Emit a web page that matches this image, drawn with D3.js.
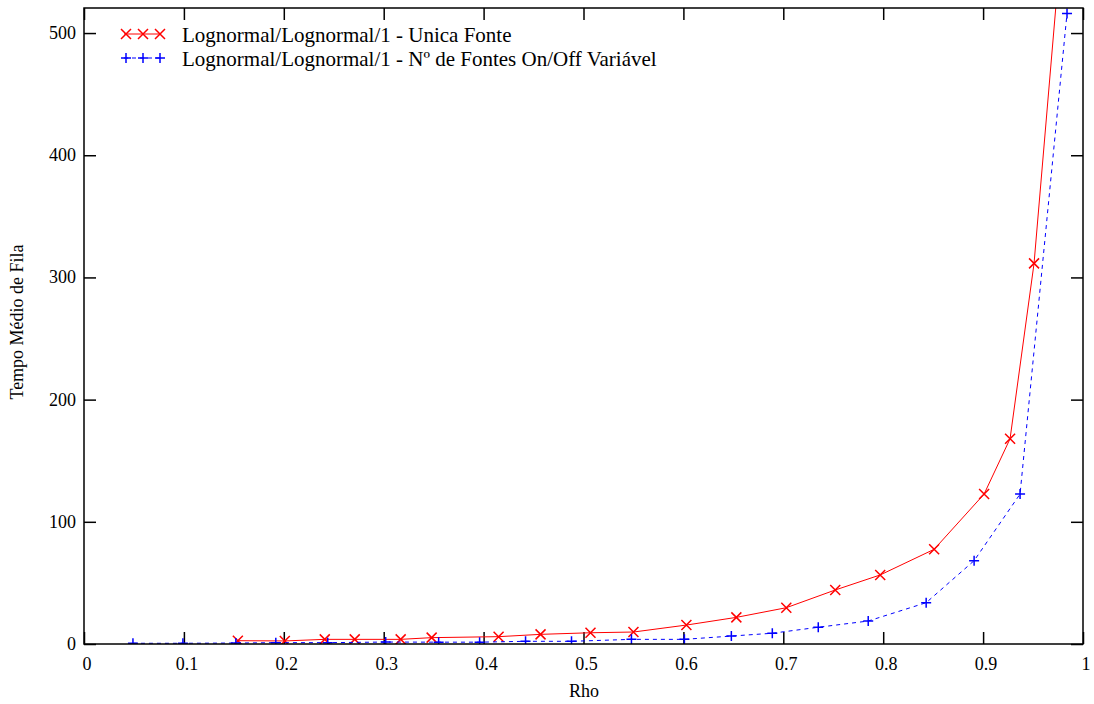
<!DOCTYPE html>
<html lang="pt">

<head>
    <meta charset="UTF-8">
    <title>Tempo Médio de Fila x Rho</title>
    <script src="https://d3js.org/d3.v7.min.js"></script>
    <style>
        body {
            margin: 0;
            background: #fff;
        }

        text {
            font-family: "Liberation Serif", "Times New Roman", serif;
            fill: #000;
        }

        .tick-label {
            font-size: 18px;
        }

        .legend-label {
            font-size: 21px;
        }
    </style>
</head>

<body>
    <svg width="1094" height="704"></svg>

    <script>
        // Lognormal/Lognormal/1 - Unica Fonte
        const rhoUnica = [0.154, 0.201, 0.241, 0.271, 0.317, 0.348, 0.415, 0.457, 0.507, 0.55,
            0.603, 0.653, 0.703, 0.752, 0.797, 0.851, 0.901, 0.927, 0.951, 0.976];
        const tempoUnica = [2.7, 2.5, 3.8, 3.8, 3.8, 5.2, 6.0, 7.9, 9.2, 9.8,
            15.5, 21.8, 29.7, 44.2, 56.5, 77.5, 122.7, 168, 311.5, 552];

        // Lognormal/Lognormal/1 - Nº de Fontes On/Off Variável
        const rhoVariavel = [0.049, 0.099, 0.152, 0.192, 0.244, 0.302, 0.355, 0.396, 0.442, 0.488,
            0.548, 0.601, 0.648, 0.689, 0.735, 0.785, 0.843, 0.891, 0.937, 0.984];
        const tempoVariavel = [0.6, 0.6, 0.8, 1.1, 1.1, 1.6, 1.5, 1.5, 2.2, 2.2,
            3.8, 3.8, 6.5, 8.8, 13.7, 18.8, 33.8, 68.2, 122.7, 516];

        const xTicks = [0, 0.1, 0.2, 0.3, 0.4, 0.5, 0.6, 0.7, 0.8, 0.9, 1];
        const xTickLabels = ["0", "0.1", "0.2", "0.3", "0.4", "0.5", "0.6", "0.7", "0.8", "0.9", "1"];
        const yTicks = [0, 100, 200, 300, 400, 500];

        const series = [
            { name: "Lognormal/Lognormal/1 - Unica Fonte", rho: rhoUnica, tempo: tempoUnica, color: "#ff0000", dash: null, marker: "x" },
            { name: "Lognormal/Lognormal/1 - Nº de Fontes On/Off Variável", rho: rhoVariavel, tempo: tempoVariavel, color: "#0000ff", dash: "4,4", marker: "+" }
        ];

        const plotLeft = 84, plotRight = 1083, plotTop = 8, plotBottom = 644;

        const svg = d3.select("svg");

        const x = d3.scaleLinear().domain([0, 1]).range([plotLeft, plotRight]);
        const y = d3.scaleLinear().domain([0, 520.5]).range([plotBottom, plotTop]);

        svg.append("defs").append("clipPath").attr("id", "plot-clip")
            .append("rect")
            .attr("x", plotLeft).attr("y", plotTop)
            .attr("width", plotRight - plotLeft).attr("height", plotBottom - plotTop);

        // axes with inward ticks on all four sides
        const tickLen = 12;
        svg.append("g")
            .attr("transform", `translate(0,${plotBottom})`)
            .call(d3.axisBottom(x).tickValues(xTicks).tickSize(-tickLen).tickFormat(""))
            .call(g => g.select(".domain").remove());
        svg.append("g")
            .attr("transform", `translate(0,${plotTop})`)
            .call(d3.axisTop(x).tickValues(xTicks).tickSize(-tickLen).tickFormat(""))
            .call(g => g.select(".domain").remove());
        svg.append("g")
            .attr("transform", `translate(${plotLeft},0)`)
            .call(d3.axisLeft(y).tickValues(yTicks).tickSize(-tickLen).tickFormat(""))
            .call(g => g.select(".domain").remove());
        svg.append("g")
            .attr("transform", `translate(${plotRight},0)`)
            .call(d3.axisRight(y).tickValues(yTicks).tickSize(-tickLen).tickFormat(""))
            .call(g => g.select(".domain").remove());
        svg.selectAll(".tick line").attr("stroke", "#000").attr("stroke-width", 1.5);

        // tick labels
        svg.append("g").selectAll("text")
            .data(xTicks)
            .join("text")
            .attr("class", "tick-label")
            .attr("x", d => x(d) + 3)
            .attr("y", 670)
            .attr("text-anchor", "middle")
            .text((d, i) => xTickLabels[i]);

        svg.append("g").selectAll("text")
            .data(yTicks)
            .join("text")
            .attr("class", "tick-label")
            .attr("x", 76)
            .attr("y", d => y(d) + 6)
            .attr("text-anchor", "end")
            .text(d => d);

        // axis titles
        svg.append("text")
            .attr("class", "tick-label")
            .attr("x", 584)
            .attr("y", 697)
            .attr("text-anchor", "middle")
            .text("Rho");

        svg.append("text")
            .attr("class", "tick-label")
            .attr("transform", "translate(23,322) rotate(-90)")
            .attr("text-anchor", "middle")
            .text("Tempo Médio de Fila");

        const line = d3.line().x(d => x(d[0])).y(d => y(d[1]));

        function drawMarker(g, type, color) {
            const s = 5;
            if (type === "x") {
                g.append("path").attr("d", `M${-s},${-s}L${s},${s}M${-s},${s}L${s},${-s}`);
            } else {
                g.append("path").attr("d", `M${-s},0L${s},0M0,${-s}L0,${s}`);
            }
            g.selectAll("path").attr("stroke", color).attr("stroke-width", 1.5).attr("fill", "none");
        }

        const plot = svg.append("g").attr("clip-path", "url(#plot-clip)");

        series.forEach(s => {
            const pts = s.rho.map((r, i) => [r, s.tempo[i]]);
            plot.append("path")
                .datum(pts)
                .attr("d", line)
                .attr("fill", "none")
                .attr("stroke", s.color)
                .attr("stroke-width", 1)
                .attr("stroke-dasharray", s.dash);

            plot.append("g").selectAll("g")
                .data(pts)
                .join("g")
                .attr("transform", d => `translate(${x(d[0])},${y(d[1])})`)
                .each(function () { drawMarker(d3.select(this), s.marker, s.color); });
        });

        // legend
        const legend = svg.append("g");
        series.forEach((s, i) => {
            const ly = 34 + i * 24;
            legend.append("line")
                .attr("x1", 124).attr("x2", 161)
                .attr("y1", ly).attr("y2", ly)
                .attr("stroke", s.color)
                .attr("stroke-width", 1)
                .attr("stroke-dasharray", s.dash);
            [126, 143, 160].forEach(mx => {
                const g = legend.append("g").attr("transform", `translate(${mx},${ly})`);
                drawMarker(g, s.marker, s.color);
            });
            legend.append("text")
                .attr("class", "legend-label")
                .attr("x", 182)
                .attr("y", ly + 8)
                .text(s.name);
        });

        // border
        svg.append("rect")
            .attr("x", plotLeft).attr("y", plotTop)
            .attr("width", plotRight - plotLeft).attr("height", plotBottom - plotTop)
            .attr("fill", "none")
            .attr("stroke", "#000")
            .attr("stroke-width", 1.5);
    </script>
</body>

</html>
